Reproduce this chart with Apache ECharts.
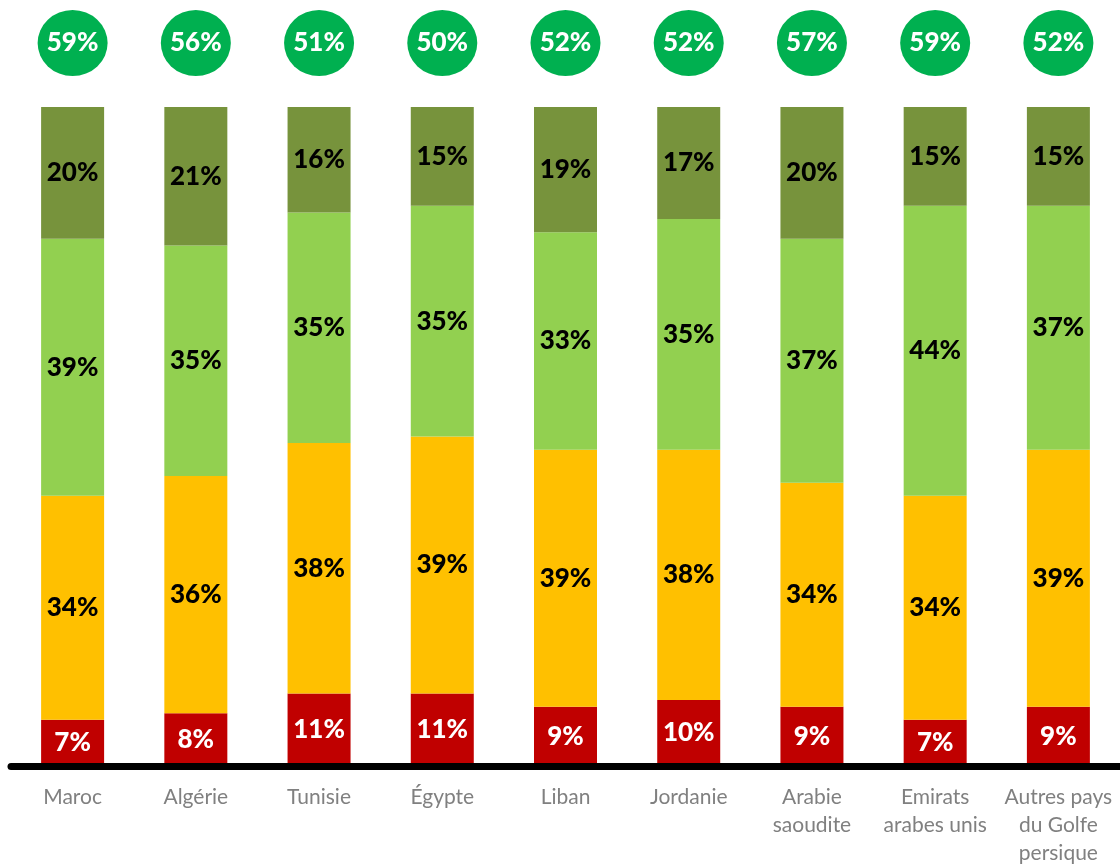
<!DOCTYPE html>
<html>
<head>
<meta charset="utf-8">
<script src="https://cdn.jsdelivr.net/npm/echarts@6/dist/echarts.min.js"></script>
<style>
html,body{margin:0;padding:0;background:#fff;}
#chart{width:1120px;height:868px;}
</style>
</head>
<body>
<div id="chart"></div>
<script>
const categories = ['Maroc', 'Algérie', 'Tunisie', 'Égypte', 'Liban', 'Jordanie', 'Arabie\nsaoudite', 'Emirats\narabes unis', 'Autres pays\ndu Golfe\npersique'];
const redValues = [7, 8, 11, 11, 9, 10, 9, 7, 9];
const orangeValues = [34, 36, 38, 39, 39, 38, 34, 34, 39];
const lightGreenValues = [39, 35, 35, 35, 33, 35, 37, 44, 37];
const darkGreenValues = [20, 21, 16, 15, 19, 17, 20, 15, 15];
const greenTotals = [59, 56, 51, 50, 52, 52, 57, 59, 52];

const FONT = 'Lato';
const CIRCLE_Y = 109.7;

function barSeries(name, data, color, labelColor) {
  return {
    name: name,
    type: 'bar',
    stack: 'total',
    data: data,
    barWidth: 63,
    itemStyle: { color: color },
    label: {
      show: true,
      position: 'inside',
      formatter: '{c}%',
      color: labelColor,
      fontFamily: FONT,
      fontWeight: 900,
      fontSize: 26
    },
    z: 2
  };
}

const chart = echarts.init(document.getElementById('chart'), null, { renderer: 'canvas' });
chart.setOption({
  animation: false,
  backgroundColor: '#fff',
  grid: { left: 11, width: 1111.5, top: 107, bottom: 102, containLabel: false },
  xAxis: {
    type: 'category',
    data: categories,
    z: 10,
    axisLine: { show: true, lineStyle: { color: '#000', width: 7 } },
    axisTick: { show: false },
    axisLabel: {
      color: '#808080',
      fontFamily: FONT,
      fontSize: 21,
      lineHeight: 28,
      margin: 17,
      interval: 0
    }
  },
  yAxis: {
    type: 'value',
    min: 0,
    max: 100,
    show: false,
    splitLine: { show: false }
  },
  series: [
    barSeries('red', redValues, '#C00000', '#fff'),
    barSeries('orange', orangeValues, '#FFC000', '#000'),
    barSeries('lightGreen', lightGreenValues, '#92D050', '#000'),
    barSeries('darkGreen', darkGreenValues, '#77933C', '#000'),
    {
      name: 'total',
      type: 'scatter',
      clip: false,
      symbol: 'circle',
      symbolSize: [70, 66],
      data: greenTotals.map(function (v, i) { return { value: [i, CIRCLE_Y], total: v }; }),
      itemStyle: { color: '#00B050', opacity: 1 },
      label: {
        show: true,
        position: 'inside',
        formatter: function (p) { return p.data.total + '%'; },
        color: '#fff',
        fontFamily: FONT,
        fontWeight: 900,
        fontSize: 26
      },
      z: 5
    }
  ]
});
</script>
</body>
</html>
